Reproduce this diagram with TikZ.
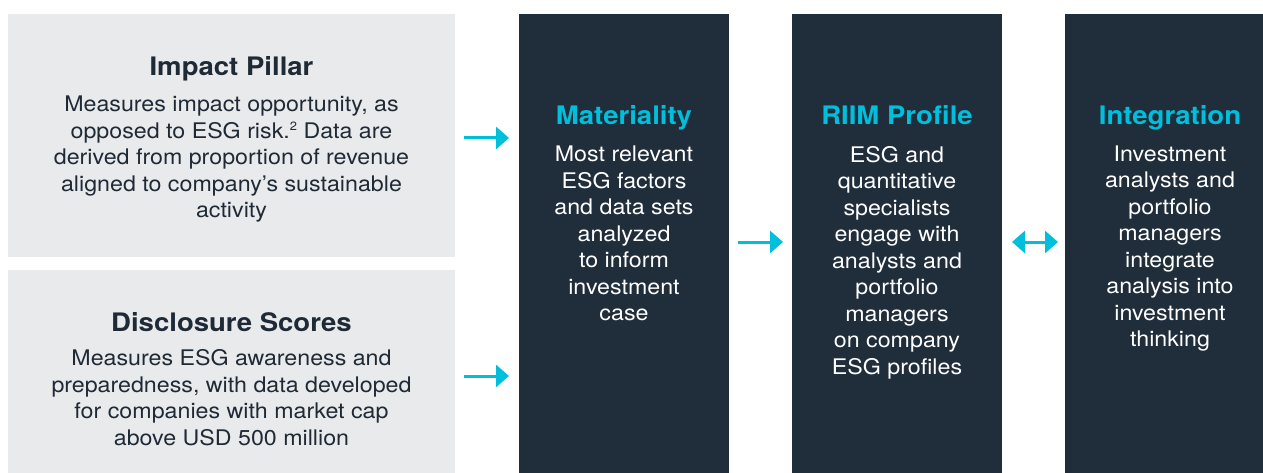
\documentclass[tikz,border=0pt]{standalone}
\usepackage{fontspec}
\setmainfont[FakeStretch=1.08]{TeX Gyre Heros}
\usetikzlibrary{arrows.meta}
\definecolor{grayfill}{HTML}{E9EAEC}
\definecolor{darkfill}{HTML}{202D3A}
\definecolor{cyanc}{HTML}{00BFDD}
\definecolor{darktext}{HTML}{1F2A37}
\newcommand{\supnum}[1]{\raisebox{7.5pt}{\fontsize{12}{12}\selectfont #1}}
\begin{document}
\begin{tikzpicture}[x=1pt,y=-1pt,
  panel/.style={inner sep=0pt, outer sep=0pt, draw=none},
  graybox/.style={panel, fill=grayfill, minimum width=447pt},
  darkbox/.style={panel, fill=darkfill, minimum height=459pt},
  titlegray/.style={anchor=base, inner sep=0pt, text=darktext, font=\fontsize{25.5}{30}\selectfont\bfseries},
  titledark/.style={anchor=base, inner sep=0pt, text=cyanc, font=\fontsize{25.5}{30}\selectfont\bfseries},
  bodygray/.style={anchor=base, inner sep=0pt, align=center, text=darktext, font=\fontsize{21.5}{26.5}\selectfont},
  bodydark/.style={anchor=base, inner sep=0pt, align=center, text=white, font=\fontsize{21.5}{26.5}\selectfont},
  arr/.style={draw=cyanc, line width=3pt, -{Triangle[length=13pt,width=22pt]}},
  dblarr/.style={draw=cyanc, line width=3pt, {Triangle[length=13pt,width=22pt]}-{Triangle[length=13pt,width=22pt]}}
]
\useasboundingbox (0,0) rectangle (1263,473);
% panels
\node[graybox, minimum height=243pt] (g1) at (231.5,135.5) {};
\node[graybox, minimum height=203pt] (g2) at (231.5,371.5) {};
\node[darkbox, minimum width=210pt] (d1) at (624,243.5) {};
\node[darkbox, minimum width=210pt] (d2) at (897,243.5) {};
\node[darkbox, minimum width=198pt] (d3) at (1164,243.5) {};
% texts (body anchor = baseline of last line)
\node[titlegray] (t1) at (231.5,76) {Impact Pillar};
\node[bodygray] (b1) at (231.5,218) {Measures impact opportunity, as\\opposed to ESG risk.\supnum{2} Data are\\derived from proportion of revenue\\aligned to company’s sustainable\\activity};
\node[titlegray] (t2) at (231.5,331) {Disclosure Scores};
\node[bodygray] (b2) at (231.5,445) {Measures ESG awareness and\\preparedness, with data developed\\for companies with market cap\\above USD 500 million};
\node[titledark] (tm) at (624,125) {Materiality};
\node[bodydark] (bm) at (624,320.5) {Most relevant\\ESG factors\\and data sets\\analyzed\\to inform\\investment\\case};
\node[titledark] (tr) at (897,124.5) {RIIM Profile};
\node[bodydark] (br) at (897,374) {ESG and\\quantitative\\specialists\\engage with\\analysts and\\portfolio\\managers\\on company\\ESG profiles};
\node[titledark] (ti) at (1170,124.5) {Integration};
\node[bodydark] (bi) at (1170,346.5) {Investment\\analysts and\\portfolio\\managers\\integrate\\analysis into\\investment\\thinking};
% connectors
\coordinate (a1) at ([yshift=-2.5pt]g1.east);
\coordinate (a2) at ([yshift=-4.5pt]g2.east);
\coordinate (a3) at ([yshift=1.5pt]d1.east);
\coordinate (a4) at ([yshift=1.5pt]d2.east);
\draw[arr, shorten <=9pt, shorten >=10pt] (a1) -- (a1 -| d1.west);
\draw[arr, shorten <=9pt, shorten >=10pt] (a2) -- (a2 -| d1.west);
\draw[arr, shorten <=9pt, shorten >=9pt] (a3) -- (a3 -| d2.west);
\draw[dblarr, shorten <=10pt, shorten >=7pt] (a4) -- (a4 -| d3.west);
\end{tikzpicture}
\end{document}
